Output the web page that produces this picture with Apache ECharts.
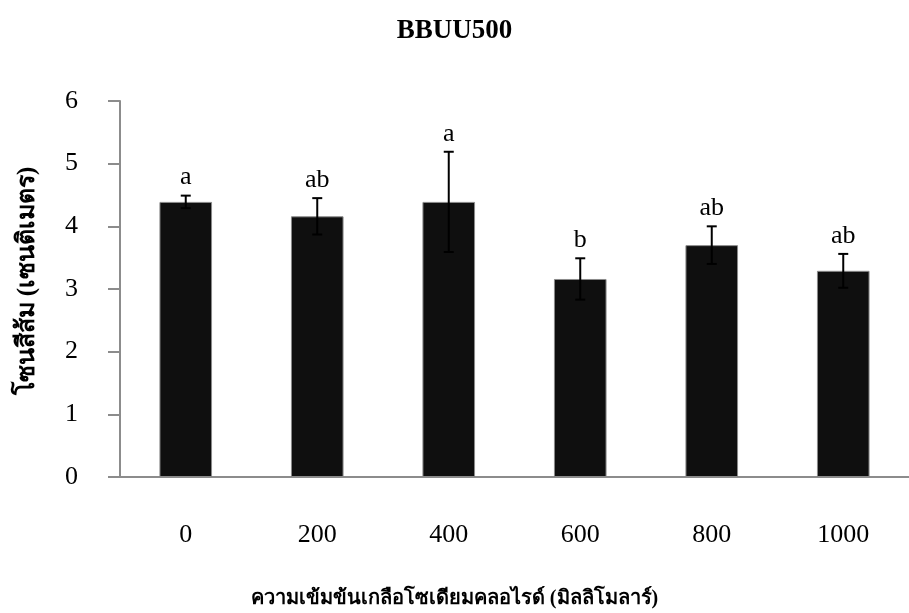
<!DOCTYPE html>
<html>
<head>
<meta charset="utf-8">
<script src="https://cdn.jsdelivr.net/npm/echarts@6/dist/echarts.min.js"></script>
<style>
  html, body { margin: 0; padding: 0; background: #fff; }
  #chart { width: 909px; height: 613px; }
</style>
</head>
<body>
<div id="chart"></div>
<script>
// NaCl concentration (mM) and orange-zone length (cm)
const categories = ['0', '200', '400', '600', '800', '1000'];
const means = [4.39, 4.16, 4.39, 3.16, 3.70, 3.29];
const errors = [0.10, 0.29, 0.80, 0.33, 0.30, 0.27];
const letters = ['a', 'ab', 'a', 'b', 'ab', 'ab'];
const yTicks = [0, 1, 2, 3, 4, 5, 6];

const serif = '"Liberation Serif", "Times New Roman", serif';
const axisGray = '#8c8c8c';

const chart = echarts.init(document.getElementById('chart'), null, { renderer: 'canvas' });

const errData = categories.map((c, i) => [i, means[i], errors[i], letters[i]]);

chart.setOption({
  backgroundColor: '#ffffff',
  animation: false,
  title: [
    {
      text: 'BBUU500',
      left: 'center',
      top: 13,
      textStyle: { fontFamily: serif, fontWeight: 'bold', fontSize: 27, color: '#000' }
    },
    {
      text: 'ความเข้มข้นเกลือโซเดียมคลอไรด์ (มิลลิโมลาร์)',
      left: 'center',
      top: 584,
      textStyle: { fontFamily: serif, fontWeight: 'bold', fontSize: 20, color: '#000' }
    }
  ],
  grid: { left: 120, right: -12, top: 101, bottom: 136, containLabel: false },
  xAxis: {
    type: 'category',
    data: categories,
    axisLine: { lineStyle: { color: axisGray, width: 2 } },
    axisTick: { show: false },
    axisLabel: { margin: 45, fontFamily: serif, fontSize: 26, color: '#000' }
  },
  yAxis: {
    type: 'value',
    min: 0,
    max: 6,
    interval: 1,
    splitLine: { show: false },
    axisLine: { show: true, lineStyle: { color: axisGray, width: 2 } },
    axisTick: { show: true, length: 12, lineStyle: { color: axisGray, width: 2 } },
    axisLabel: {
      margin: 42,
      fontFamily: serif,
      fontSize: 26,
      color: '#000',
      formatter: v => (yTicks.indexOf(v) >= 0 ? String(v) : '')
    },
    name: 'โซนสีส้ม (เซนติเมตร)',
    nameLocation: 'middle',
    nameGap: 80,
    nameTextStyle: {
      fontFamily: serif,
      fontWeight: 'bold',
      fontSize: 25,
      color: '#000',
      padding: [0, 0, 0, 16]
    }
  },
  series: [
    {
      type: 'bar',
      data: means,
      barWidth: '40%',
      itemStyle: { color: '#0f0f0f', borderColor: '#8a8a8a', borderWidth: 1 },
      z: 2
    },
    {
      type: 'custom',
      data: errData,
      z: 5,
      renderItem: function (params, api) {
        const x = api.value(0);
        const m = api.value(1);
        const e = api.value(2);
        const hi = api.coord([x, m + e]);
        const lo = api.coord([x, m - e]);
        const cap = 5;
        const style = { stroke: '#000', lineWidth: 2 };
        return {
          type: 'group',
          children: [
            { type: 'line', shape: { x1: hi[0], y1: hi[1], x2: lo[0], y2: lo[1] }, style },
            { type: 'line', shape: { x1: hi[0] - cap, y1: hi[1], x2: hi[0] + cap, y2: hi[1] }, style },
            { type: 'line', shape: { x1: lo[0] - cap, y1: lo[1], x2: lo[0] + cap, y2: lo[1] }, style },
            {
              type: 'text',
              x: hi[0],
              y: hi[1] - 5,
              style: {
                text: api.value(3),
                fill: '#000',
                font: '26px ' + serif,
                textAlign: 'center',
                textVerticalAlign: 'bottom'
              }
            }
          ]
        };
      }
    }
  ]
});
</script>
</body>
</html>
